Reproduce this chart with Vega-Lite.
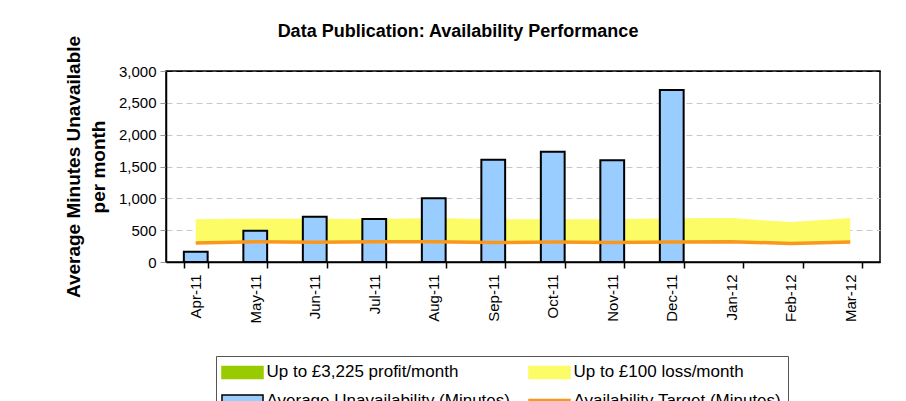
{
  "$schema": "https://vega.github.io/schema/vega-lite/v6.json",
  "width": 714,
  "height": 191,
  "autosize": {"type": "none"},
  "padding": {"left": 166, "top": 71, "right": 26, "bottom": 139},
  "background": "#ffffff",
  "title": {
    "text": "Data Publication: Availability Performance",
    "font": "Liberation Sans",
    "fontSize": 18,
    "fontWeight": "bold",
    "color": "#000000",
    "anchor": "middle",
    "frame": "group",
    "dx": -65,
    "offset": 0,
    "dy": 6
  },
  "datasets": {
    "months": [
      {"month": "Apr-11", "unavail": 160, "target": 300, "upper": 670},
      {"month": "May-11", "unavail": 490, "target": 320, "upper": 685},
      {"month": "Jun-11", "unavail": 710, "target": 310, "upper": 680},
      {"month": "Jul-11", "unavail": 675, "target": 320, "upper": 675},
      {"month": "Aug-11", "unavail": 1000, "target": 320, "upper": 690},
      {"month": "Sep-11", "unavail": 1605, "target": 305, "upper": 670},
      {"month": "Oct-11", "unavail": 1730, "target": 315, "upper": 673},
      {"month": "Nov-11", "unavail": 1600, "target": 305, "upper": 673},
      {"month": "Dec-11", "unavail": 2700, "target": 315, "upper": 688},
      {"month": "Jan-12", "unavail": null, "target": 320, "upper": 690},
      {"month": "Feb-12", "unavail": null, "target": 290, "upper": 627},
      {"month": "Mar-12", "unavail": null, "target": 315, "upper": 690}
    ],
    "legend": [
      {"series": "Up to £3,225 profit/month"},
      {"series": "Up to £100 loss/month"},
      {"series": "Average Unavailability (Minutes)"},
      {"series": "Availability Target (Minutes)"}
    ]
  },
  "encoding": {
    "x": {
      "field": "month",
      "type": "ordinal",
      "sort": null,
      "scale": {"paddingInner": 0.6, "paddingOuter": 0.3},
      "axis": {
        "title": null,
        "labelAngle": -90,
        "labelFont": "Liberation Sans",
        "labelFontSize": 15,
        "labelColor": "#000000",
        "labelPadding": 6,
        "tickBand": "extent",
        "tickSize": 6,
        "tickColor": "#000000",
        "tickWidth": 1.5,
        "domainColor": "#000000",
        "domainWidth": 1.5,
        "grid": false
      }
    }
  },
  "layer": [
    {
      "data": {"name": "months"},
      "mark": {"type": "area", "color": "#FCFC66", "opacity": 1},
      "encoding": {
        "y": {
          "field": "target",
          "type": "quantitative",
          "scale": {"domain": [0, 3000]},
          "axis": {
            "values": [0, 500, 1000, 1500, 2000, 2500, 3000],
            "format": ",d",
            "labelOverlap": false,
            "labelFont": "Liberation Sans",
            "labelFontSize": 15,
            "labelColor": "#000000",
            "labelPadding": 4,
            "tickSize": 6,
            "tickColor": "#999999",
            "domainColor": "#000000",
            "domainWidth": 1.5,
            "grid": true,
            "gridColor": {"condition": {"test": "datum.value == 0 || datum.value == 3000", "value": "#000000"}, "value": "#c8c8c8"},
            "gridDash": [6, 4],
            "title": ["Average Minutes Unavailable", "per month"],
            "titleFont": "Liberation Sans",
            "titleFontSize": 19,
            "titleFontWeight": "bold",
            "titleColor": "#000000",
            "titleLineHeight": 25,
            "titlePadding": 10
          }
        },
        "y2": {"field": "upper"}
      }
    },
    {
      "data": {"name": "months"},
      "transform": [{"filter": "datum.unavail != null"}],
      "mark": {"type": "bar", "fill": "#99CCFF", "stroke": "#000000", "strokeWidth": 2},
      "encoding": {
        "y": {
          "field": "unavail",
          "type": "quantitative",
          "axis": {
            "values": [0, 500, 1000, 1500, 2000, 2500, 3000],
            "format": ",d",
            "labelOverlap": false,
            "labelFont": "Liberation Sans",
            "labelFontSize": 15,
            "labelColor": "#000000",
            "labelPadding": 4,
            "tickSize": 6,
            "tickColor": "#999999",
            "domainColor": "#000000",
            "domainWidth": 1.5,
            "grid": true,
            "gridColor": {"condition": {"test": "datum.value == 0 || datum.value == 3000", "value": "#000000"}, "value": "#c8c8c8"},
            "gridDash": [6, 4],
            "title": ["Average Minutes Unavailable", "per month"],
            "titleFont": "Liberation Sans",
            "titleFontSize": 19,
            "titleFontWeight": "bold",
            "titleColor": "#000000",
            "titleLineHeight": 25,
            "titlePadding": 10
          }
        }
      }
    },
    {
      "data": {"name": "months"},
      "mark": {"type": "line", "color": "#F9981F", "strokeWidth": 3.5},
      "encoding": {
        "y": {
          "field": "target",
          "type": "quantitative",
          "axis": {
            "values": [0, 500, 1000, 1500, 2000, 2500, 3000],
            "format": ",d",
            "labelOverlap": false,
            "labelFont": "Liberation Sans",
            "labelFontSize": 15,
            "labelColor": "#000000",
            "labelPadding": 4,
            "tickSize": 6,
            "tickColor": "#999999",
            "domainColor": "#000000",
            "domainWidth": 1.5,
            "grid": true,
            "gridColor": {"condition": {"test": "datum.value == 0 || datum.value == 3000", "value": "#000000"}, "value": "#c8c8c8"},
            "gridDash": [6, 4],
            "title": ["Average Minutes Unavailable", "per month"],
            "titleFont": "Liberation Sans",
            "titleFontSize": 19,
            "titleFontWeight": "bold",
            "titleColor": "#000000",
            "titleLineHeight": 25,
            "titlePadding": 10
          }
        }
      }
    },
    {
      "data": {"name": "legend"},
      "transform": [{"filter": "false"}],
      "mark": {"type": "point", "filled": true, "opacity": 1, "size": 324},
      "encoding": {
        "fill": {
          "field": "series",
          "type": "nominal",
          "scale": {
            "domain": ["Up to £3,225 profit/month", "Up to £100 loss/month", "Average Unavailability (Minutes)", "Availability Target (Minutes)"],
            "range": ["#99CC00", "#FCFC66", "#99CCFF", "#F9981F"]
          },
          "legend": {
            "orient": "none",
            "direction": "horizontal",
            "legendX": 50,
            "legendY": 285,
            "columns": 2,
            "columnPadding": 15,
            "rowPadding": 9,
            "title": null,
            "labelFont": "Liberation Sans",
            "labelFontSize": 17,
            "labelColor": "#000000",
            "labelLimit": 400,
            "labelOffset": 14,
            "symbolOffset": 10.5,
            "strokeColor": "#555555",
            "padding": 6,
            "symbolSize": 324,
            "symbolStrokeWidth": 1.5,
            "symbolOpacity": 1
          }
        },
        "stroke": {
          "field": "series",
          "type": "nominal",
          "scale": {
            "domain": ["Up to £3,225 profit/month", "Up to £100 loss/month", "Average Unavailability (Minutes)", "Availability Target (Minutes)"],
            "range": ["#99CC00", "#FCFC66", "#000000", "#F9981F"]
          }
        },
        "shape": {
          "field": "series",
          "type": "nominal",
          "scale": {
            "domain": ["Up to £3,225 profit/month", "Up to £100 loss/month", "Average Unavailability (Minutes)", "Availability Target (Minutes)"],
            "range": ["M-2.28,-0.667H2.28V0.667H-2.28Z", "M-2.28,-0.667H2.28V0.667H-2.28Z", "M-2.28,-0.667H2.28V0.667H-2.28Z", "M-2.28,-0.167H2.28V0.167H-2.28Z"]
          }
        }
      }
    }
  ],
  "config": {
    "view": {"stroke": "#000000", "strokeWidth": 1.5},
    "font": "Liberation Sans"
  }
}
